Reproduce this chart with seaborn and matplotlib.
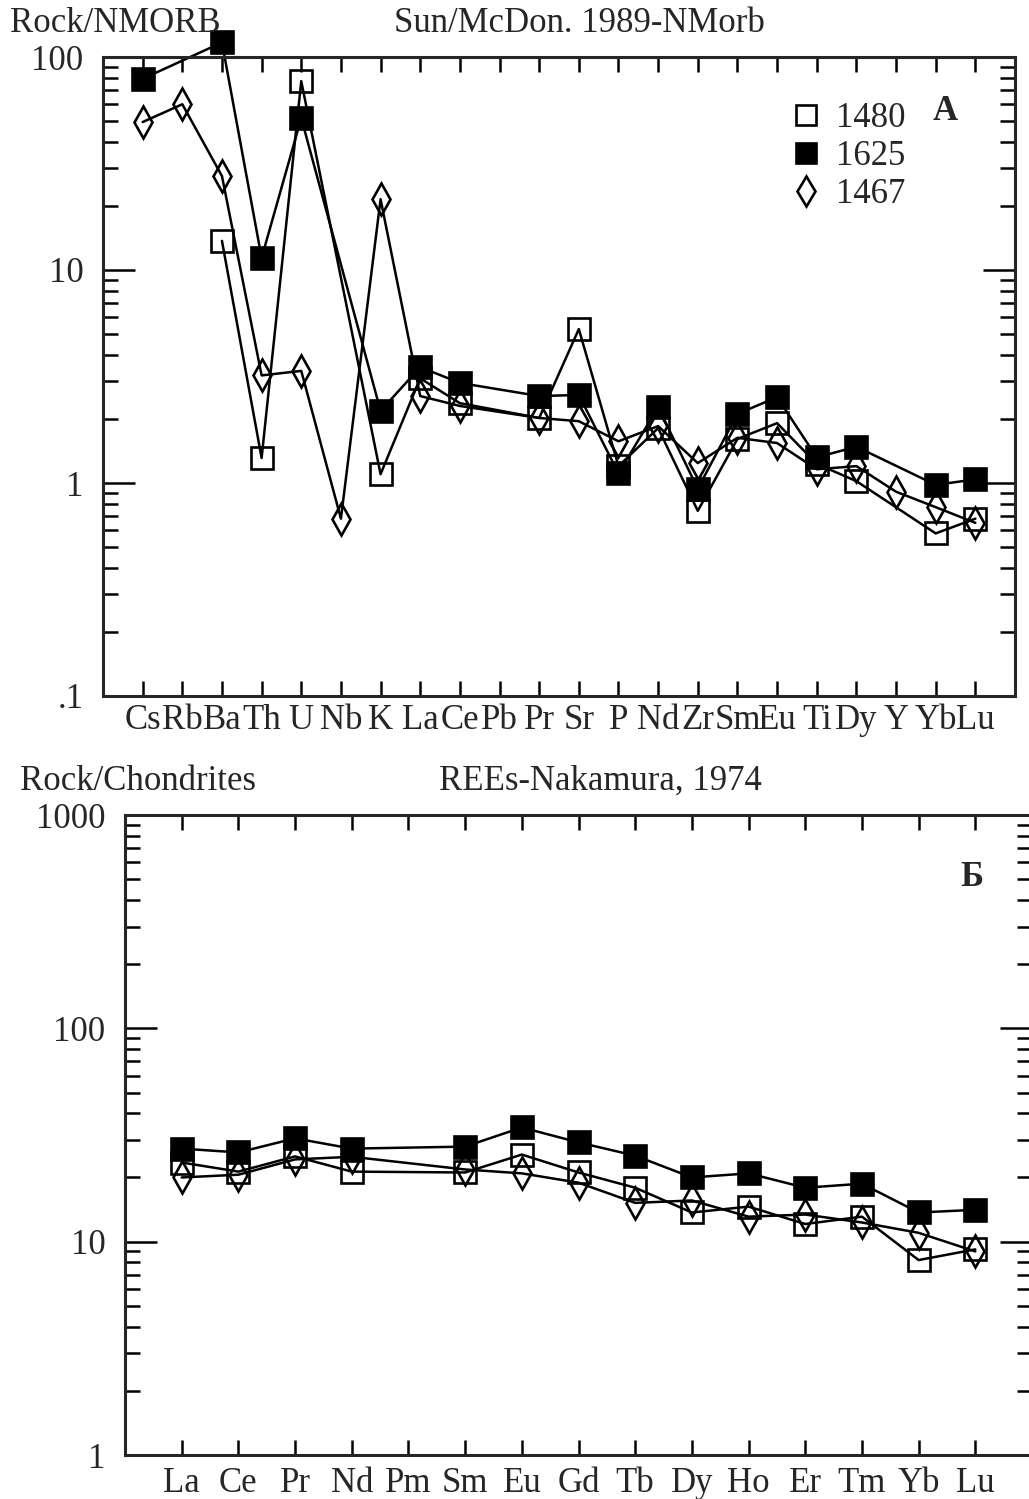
import numpy as np
import pandas as pd
import matplotlib
matplotlib.use('Agg')
import matplotlib.pyplot as plt
import seaborn as sns
from matplotlib.lines import Line2D
from matplotlib.ticker import LogLocator, NullFormatter

sns.set_style('ticks')
plt.rcParams['font.family'] = ['Liberation Serif', 'DejaVu Serif']

n = np.nan

# спайдерграмма, нормировано на N-MORB (Sun, McDonough 1989)
nmorb_el = ['Cs', 'Rb', 'Ba', 'Th', 'U', 'Nb', 'K', 'La', 'Ce', 'Pb', 'Pr',
            'Sr', 'P', 'Nd', 'Zr', 'Sm', 'Eu', 'Ti', 'Dy', 'Y', 'Yb', 'Lu']
nm_1480 = [n, n, 13.7, 1.31, 77, n, 1.10, 3.1, 2.37, n, 2.02,
           5.28, 1.2, 1.81, 0.74, 1.61, 1.91, 1.23, 1.02, n, 0.58, 0.68]
nm_1625 = [79, n, 117, 11.4, 51.7, n, 2.18, 3.5, 2.95, n, 2.56,
           2.59, 1.11, 2.27, 0.94, 2.11, 2.53, 1.32, 1.48, n, 0.98, 1.04]
nm_1467 = [49.5, 60, 27.6, 3.2, 3.36, 0.68, 21.5, 2.56, 2.30, n, 2.02,
           1.95, 1.57, 1.85, 1.24, 1.63, 1.54, 1.16, 1.2, 0.91, 0.77, 0.65]

# РЗЭ, нормировано на хондрит (Nakamura 1974)
ree_el = ['La', 'Ce', 'Pr', 'Nd', 'Pm', 'Sm', 'Eu', 'Gd', 'Tb', 'Dy', 'Ho',
          'Er', 'Tm', 'Yb', 'Lu']
ree_1480 = [23.5, 21.3, 25.1, 21.3, n, 21.1, 25.6, 21.1, 17.9, 13.7, 14.6,
            12.1, 13.1, 8.2, 9.2]
ree_1625 = [27.3, 26.2, 30.5, 27.3, n, 27.9, 34.3, 29.2, 25.3, 20.0, 20.9,
            17.9, 18.7, 13.7, 14.1]
ree_1467 = [20.0, 20.6, 24.3, 25.0, n, 21.8, 20.9, 18.9, 15.2, 15.6, 13.1,
            13.4, 12.3, 11.0, 9.0]

samples = ['1480', '1625', '1467']
marks = {'1480': ('s', 'none'), '1625': ('s', 'black'), '1467': ('d', 'none')}

FS = 25
LW = 1.8
MS = 16
MEW = 1.9


def spider(ax, elems, data, ylim, ylabels, xpad):
    ax.set_yscale('log')
    pos = np.arange(len(elems))
    for name, vals in zip(samples, data):
        df = pd.DataFrame({'pos': pos, 'val': vals}).dropna()
        mk, fc = marks[name]
        sns.lineplot(data=df, x='pos', y='val', ax=ax, color='black', lw=LW,
                     marker=mk, markersize=MS, markerfacecolor=fc,
                     markeredgecolor='black', markeredgewidth=MEW,
                     clip_on=False, legend=False, estimator=None)
    ax.set_xlim(-1, len(elems))
    ax.set_ylim(*ylim)
    ax.set_xticks(pos)
    ax.set_xticklabels(elems, fontsize=FS)
    ticks = [10.0 ** k for k in range(int(np.log10(ylim[0])), int(np.log10(ylim[1])) + 1)]
    ax.set_yticks(ticks)
    ax.set_yticklabels(ylabels, fontsize=FS)
    ax.yaxis.set_minor_locator(LogLocator(base=10, subs=range(2, 10), numticks=20))
    ax.yaxis.set_minor_formatter(NullFormatter())
    ax.set_xlabel('')
    ax.set_ylabel('')
    for s in ax.spines.values():
        s.set_linewidth(2.2)
        s.set_visible(True)
    ax.tick_params(axis='both', which='both', direction='in', top=True, right=True,
                   width=1.8, color='black')
    ax.tick_params(axis='y', which='major', length=23, pad=14)
    ax.tick_params(axis='y', which='minor', length=11)
    ax.tick_params(axis='x', which='major', length=11, pad=xpad)


fig = plt.figure(figsize=(10.29, 14.99), dpi=100)
W, H = 1029, 1499

ax1 = fig.add_axes([103 / W, (H - 696) / H, (1015 - 103) / W, (696 - 57) / H])
spider(ax1, nmorb_el, [nm_1480, nm_1625, nm_1467], (0.1, 100), ['.1', '1', '10', '100'], 6)

ax2 = fig.add_axes([125 / W, (H - 1455) / H, (1032 - 125) / W, (1455 - 815) / H])
spider(ax2, ree_el, [ree_1480, ree_1625, ree_1467], (1, 1000), ['1', '10', '100', '1000'], 9)

handles = [Line2D([], [], ls='none', marker=marks[s][0], markersize=MS - 1,
                  markerfacecolor=marks[s][1], markeredgecolor='black',
                  markeredgewidth=MEW) for s in samples]
ax1.legend(handles, samples, loc='upper left', bbox_to_anchor=(0.752, 0.93),
           frameon=False, fontsize=FS, handlelength=1.0, handletextpad=0.35,
           labelspacing=0.15, borderpad=0, borderaxespad=0)

ax1.text(0.923, 0.915, 'А', transform=ax1.transAxes, fontsize=FS,
         fontweight='bold', ha='center', va='center')
ax2.text(0.934, 0.903, 'Б', transform=ax2.transAxes, fontsize=FS,
         fontweight='bold', ha='center', va='center')

fig.text(10 / W, 1 - 32 / H, 'Rock/NMORB', fontsize=FS, ha='left', va='baseline')
fig.text(579 / W, 1 - 32 / H, 'Sun/McDon. 1989-NMorb', fontsize=FS, ha='center', va='baseline')
fig.text(20 / W, 1 - 790 / H, 'Rock/Chondrites', fontsize=FS, ha='left', va='baseline')
fig.text(600 / W, 1 - 790 / H, 'REEs-Nakamura, 1974', fontsize=FS, ha='center', va='baseline')

fig.savefig('out.png', dpi=100)
